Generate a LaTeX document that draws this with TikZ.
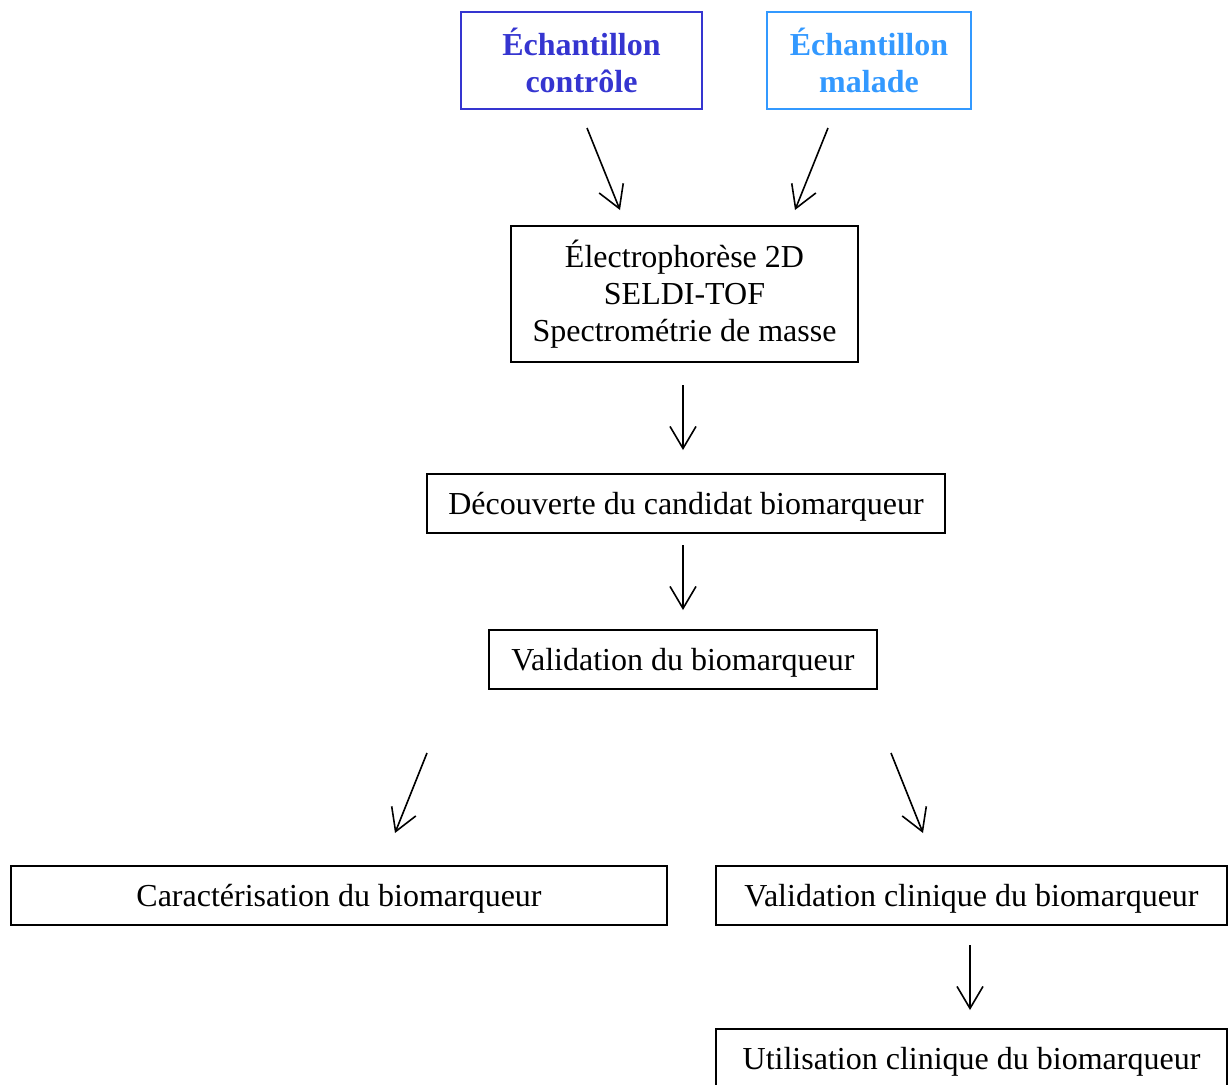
\documentclass[tikz,border=0pt]{standalone}
\usepackage{fontspec}
\setmainfont{Liberation Serif}
\usepackage{xcolor}
\definecolor{ctlblue}{HTML}{3535D0}
\definecolor{disblue}{HTML}{3399FF}
\usetikzlibrary{arrows.meta}
\tikzset{
  sbox/.style  ={rectangle, draw=black, line width=0.8pt, align=center, inner sep=2pt,
                 font=\fontsize{16}{18.5}\selectfont},
  lbox/.style  ={sbox, text depth=0pt},
  ctlbox/.style={sbox, draw=ctlblue, text=ctlblue, font=\fontsize{16}{18.5}\selectfont\bfseries},
  disbox/.style={sbox, draw=disblue, text=disblue, font=\fontsize{16}{18.5}\selectfont\bfseries},
  arr/.style   ={-{Straight Barb[length=11pt, width=13pt, line width=0.8pt]}, line width=0.8pt},
}

\begin{document}
\begin{tikzpicture}[x=0.5pt, y=-0.5pt]
  \useasboundingbox (0,0) rectangle (1228,1084);
  % boxes
  \node[ctlbox, minimum width=120.5pt, minimum height=48.5pt] (ctl) at (581.5,60.5) {Échantillon\\contrôle};
  \node[disbox, minimum width=102pt, minimum height=48.5pt] (dis) at (869,60.5) {Échantillon\\malade};
  \node[sbox, minimum width=173.5pt, minimum height=68pt] (sep) at (684.5,294) {Électrophorèse 2D\\SELDI-TOF\\Spectrométrie de masse};
  \node[lbox, minimum width=259pt, minimum height=29.5pt] (disc) at (686,503.5) {Découverte du candidat biomarqueur};
  \node[lbox, minimum width=194pt, minimum height=29.5pt] (val) at (683,659.5) {Validation du biomarqueur};
  \node[lbox, minimum width=328pt, minimum height=29.5pt] (car) at (339,895.5) {Caractérisation du biomarqueur};
  \node[lbox, minimum width=255.5pt, minimum height=29.5pt] (clin) at (971.5,895.5) {Validation clinique du biomarqueur};
  \node[lbox, minimum width=255.5pt, minimum height=29.5pt, anchor=north] (use) at (971.5,1028) {Utilisation clinique du biomarqueur};
  % free arrows
  \coordinate (a1s) at (587,128);  \coordinate (a1e) at (620,210);
  \coordinate (a2s) at (828,128);  \coordinate (a2e) at (795,210);
  \coordinate (a3s) at (683,385);  \coordinate (a3e) at (683,450);
  \coordinate (a4s) at (683,545);  \coordinate (a4e) at (683,610);
  \coordinate (a5s) at (427,753);  \coordinate (a5e) at (395,833);
  \coordinate (a6s) at (891,753);  \coordinate (a6e) at (923,833);
  \coordinate (a7s) at (970,945);  \coordinate (a7e) at (970,1010);
  \foreach \i in {1,...,7}
    \draw[arr] (a\i s) -- (a\i e);
\end{tikzpicture}
\end{document}
